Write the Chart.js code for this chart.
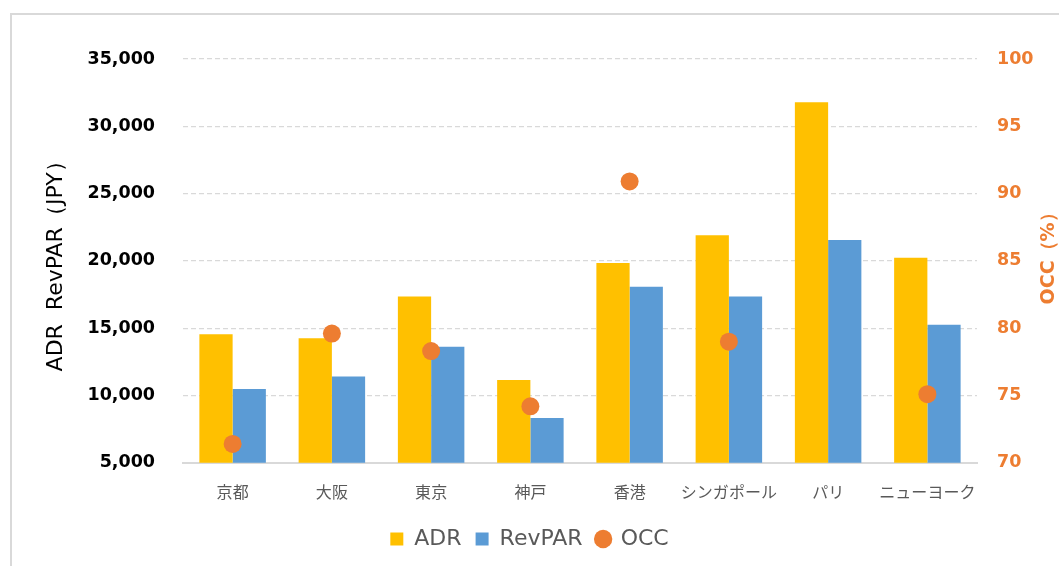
<!DOCTYPE html>
<html>
<head>
<meta charset="utf-8">
<script src="https://cdn.jsdelivr.net/npm/chart.js@4"></script>
<style>
    body { margin: 0; background: #fff; overflow: hidden; }
    #frame { position: absolute; left: 10px; top: 13px; width: 1100px; height: 600px; border: 2px solid #d9d9d9; }
    #chart { position: absolute; left: 0; top: 0; }
</style>
</head>
<body>
<div id="frame"></div>
<canvas id="chart" width="1059" height="566"></canvas>
<script>
const cities = ['京都', '大阪', '東京', '神戸', '香港', 'シンガポール', 'パリ', 'ニューヨーク'];
const adr = [14550, 14250, 17360, 11150, 19840, 21900, 31780, 20240];
const revpar = [10490, 11420, 13630, 8330, 18080, 17360, 21550, 15250];
const occ = [71.4, 79.6, 78.3, 74.2, 90.9, 79.0, null, 75.1];

const leftTitle = 'ADR  RevPAR（JPY）';
const rightTitle = 'OCC（%）';

const orange = '#ed7d31';
const gridGray = '#d9d9d9';

// right axis title reads bottom-to-top, so draw it ourselves
const rightTitlePlugin = {
    id: 'rightTitle',
    afterDraw(chart) {
        const ctx = chart.ctx;
        const area = chart.chartArea;
        ctx.save();
        ctx.translate(1049, (area.top + area.bottom) / 2 - 7);
        ctx.rotate(-Math.PI / 2);
        ctx.font = 'bold 19px "DejaVu Sans"';
        ctx.fillStyle = orange;
        ctx.textAlign = 'center';
        ctx.textBaseline = 'middle';
        ctx.fillText(rightTitle, 0, 0);
        ctx.restore();
    }
};

new Chart(document.getElementById('chart'), {
    type: 'bar',
    data: {
        labels: cities,
        datasets: [
            {
                label: 'ADR',
                data: adr,
                backgroundColor: '#ffc000',
                pointStyle: 'rect',
                yAxisID: 'y'
            },
            {
                label: 'RevPAR',
                data: revpar,
                backgroundColor: '#5b9bd5',
                pointStyle: 'rect',
                yAxisID: 'y'
            },
            {
                type: 'line',
                label: 'OCC',
                data: occ,
                showLine: false,
                backgroundColor: orange,
                borderColor: orange,
                pointStyle: 'circle',
                pointRadius: 9,
                pointBorderWidth: 0,
                yAxisID: 'y1',
                order: -1
            }
        ]
    },
    options: {
        responsive: false,
        animation: false,
        categoryPercentage: 0.67,
        barPercentage: 1,
        layout: {
            padding: { top: 59, right: 0, bottom: 6, left: 0 }
        },
        plugins: {
            legend: {
                position: 'bottom',
                labels: {
                    usePointStyle: true,
                    boxWidth: 13,
                    boxHeight: 13,
                    padding: 14,
                    color: '#595959',
                    font: { family: '"DejaVu Sans"', size: 22 },
                    sort: (a, b) => a.datasetIndex - b.datasetIndex
                }
            },
            tooltip: { enabled: false }
        },
        scales: {
            x: {
                grid: { display: false },
                border: { display: true, color: gridGray, width: 2 },
                ticks: {
                    color: '#595959',
                    padding: 12,
                    maxRotation: 0,
                    autoSkip: false,
                    font: { family: '"Noto Sans CJK JP"', size: 16 }
                }
            },
            y: {
                position: 'left',
                min: 5000,
                max: 35000,
                afterFit: s => { s.width = 183; },
                grid: { color: gridGray, lineWidth: 1.3, drawTicks: false },
                border: { display: false, dash: [5, 3] },
                ticks: {
                    stepSize: 5000,
                    padding: 28,
                    color: '#000',
                    font: { family: '"DejaVu Sans"', size: 17.5, weight: 'bold' },
                    callback: v => v.toLocaleString('en-US')
                },
                title: {
                    display: true,
                    text: leftTitle,
                    color: '#000',
                    padding: { top: 43, bottom: 0 },
                    font: { family: '"DejaVu Sans"', size: 22 }
                }
            },
            y1: {
                position: 'right',
                min: 70,
                max: 100,
                afterFit: s => { s.width = 82; },
                grid: { display: false, drawTicks: false },
                border: { display: false },
                ticks: {
                    stepSize: 5,
                    padding: 20,
                    color: orange,
                    font: { family: '"DejaVu Sans"', size: 17.5, weight: 'bold' }
                }
            }
        }
    },
    plugins: [rightTitlePlugin]
});
</script>
</body>
</html>
